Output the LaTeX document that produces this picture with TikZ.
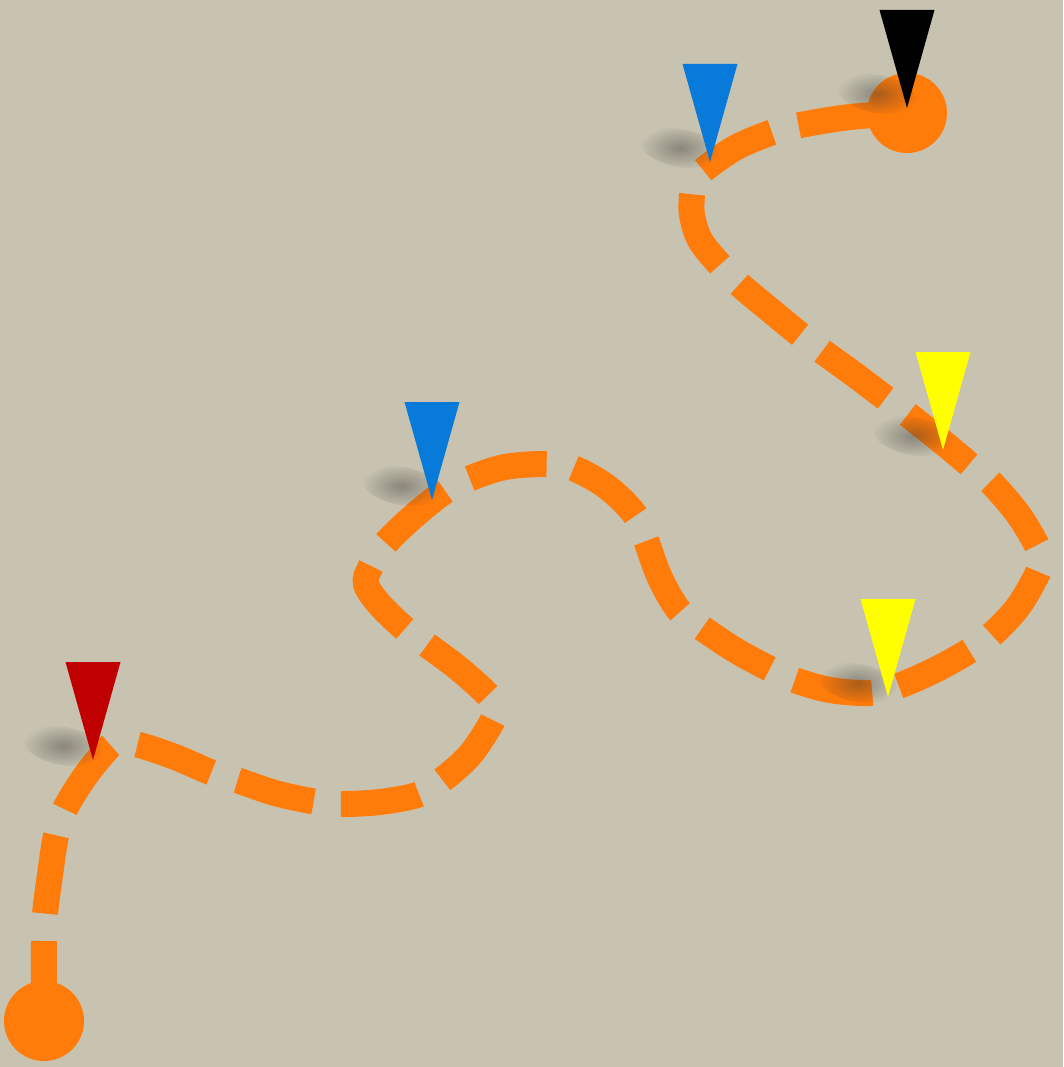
\documentclass[tikz,border=0pt]{standalone}
\usetikzlibrary{fadings}
\definecolor{bg}{RGB}{200,195,176}
\definecolor{pathorange}{RGB}{255,123,10}
\definecolor{mblue}{RGB}{8,123,218}
\definecolor{mred}{RGB}{192,0,0}
\definecolor{myellow}{RGB}{255,255,0}
\tikzfading[name=softblob, inner color=transparent!0, outer color=transparent!100]
\tikzset{
  route/.style={draw=pathorange, line width=26pt, dash pattern=on 79pt off 27.5pt},
  endpoint/.style={fill=pathorange},
  shadowblob/.style={fill=black!80, fill opacity=0.42, path fading=softblob},
  pin/.style={fill=#1}
}
\newcommand{\marker}[3]{% x, y of tip, colour
  \fill[shadowblob, rotate around={-10:(#1-30,#2-14)}] (#1-30,#2-14) ellipse [x radius=40, y radius=19];
  \fill[pin=#3] (#1,#2) -- (#1-27.5,#2-98) -- (#1+27.5,#2-98) -- cycle;
}
\begin{document}
\begin{tikzpicture}[x=1pt,y=-1pt]
\fill[bg] (0,0) rectangle (1063,1067);
\useasboundingbox (0,0) rectangle (1063,1067);
% route
\draw[route] plot[smooth, tension=0.55] coordinates {
 (44,1020) (44,941) (45,914) (50,875) (56,836) (65,809) (86,775) (109.5,746.5) (115,744)}
 -- plot[smooth, tension=0.55] coordinates {
 (115,744) (137,744.5) (175,757) (211.5,772.5) (238,780.5) (275,793) (314,801.5) (340.5,804)
 (380,802) (418.5,794.5) (442,780) (470,755) (492,721.7) (495,708) (488.5,695.5) (458,668)
 (427,645) (405.5,629.5) (380,605) (366,584) (370.5,567) (385.5,543.5) (415,515) (446,490.5)
 (469,478.7) (505,467) (546.5,464) (573,468) (607,487) (634.5,514) (645.5,539) (660,578)
 (679,610.5) (700.5,627) (735,650) (769,668.5) (793,679.5) (830,690) (871.5,693) (898.5,686)
 (935,670) (969,651) (991.5,635) (1018,607) (1038,572.5) (1040,559) (1037,545.5) (1018,514)
 (991,482.5) (970,465) (940,440) (908.5,415) (886,398.5) (855,375) (822.5,351.5) (800.5,335)
 (770,310) (739.5,284.5) (720,265) (700,240) (692,215) (692,194.5) (694,182)}
 -- plot[smooth, tension=0.55] coordinates {
 (694,182) (703,170.5) (735,148) (771.5,132.5) (798,125.5) (850,117) (907,113)};
% end circles
\coordinate (start) at (44,1021);
\coordinate (finish) at (907,113);
\fill[endpoint] (start) circle [radius=40];
\fill[endpoint] (finish) circle [radius=40];
% markers
\marker{93}{760}{mred}
\marker{432}{500}{mblue}
\marker{888}{697}{myellow}
\marker{943}{450}{myellow}
\marker{710}{162}{mblue}
\marker{907}{108}{black}
\end{tikzpicture}
\end{document}
